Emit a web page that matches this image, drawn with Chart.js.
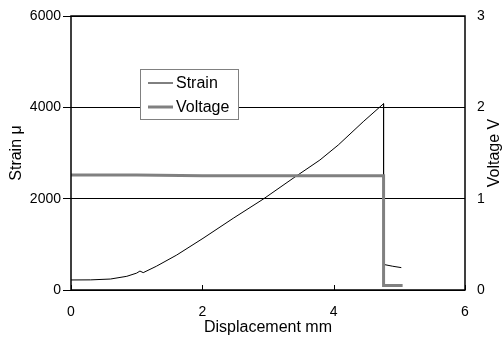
<!DOCTYPE html>
<html>
<head>
<meta charset="utf-8">
<script src="https://cdn.jsdelivr.net/npm/chart.js@4.4.0/dist/chart.umd.min.js"></script>
<style>
  html, body { margin: 0; padding: 0; background: #fff; }
</style>
</head>
<body>
<canvas id="chart" width="504" height="343"></canvas>
<script>
// =======================
// Dados
// =======================
const strainDisp = [0, 0.3, 0.6, 0.85, 1.0, 1.05, 1.1, 1.3, 1.61, 2.01, 2.47, 2.93, 3.38, 3.79, 4.07, 4.45, 4.76, 4.76, 4.9, 5.03];
const strainVals = [220, 222, 240, 300, 370, 415, 380, 520, 766, 1131, 1570, 1993, 2445, 2846, 3175, 3685, 4080, 560, 520, 490];

const voltDisp = [0, 1.0, 2.0, 4.76, 4.76, 5.05];
const voltVals = [1.26, 1.26, 1.25, 1.25, 0.05, 0.05];

const xTicks = [0, 2, 4, 6];
const strainTicks = [0, 2000, 4000, 6000];
const voltTicks = [0, 1, 2, 3];

const FONT = "'Liberation Sans', Arial, sans-serif";

function toPoints(xs, ys) {
    return xs.map((x, i) => ({ x: x, y: ys[i] }));
}

// =======================
// Plugins simples
// =======================

// moldura em volta da área do gráfico + ticks internos do eixo x
const frame = {
    id: "frame",
    afterDraw(chart) {
        const { ctx, chartArea: a, scales } = chart;
        ctx.save();
        ctx.strokeStyle = "#000";
        ctx.lineWidth = 1.5;
        ctx.strokeRect(a.left, a.top, a.right - a.left, a.bottom - a.top);
        ctx.lineWidth = 1;
        xTicks.forEach(v => {
            const px = Math.round(scales.x.getPixelForValue(v)) + 0.5;
            ctx.beginPath();
            ctx.moveTo(px, a.bottom);
            ctx.lineTo(px, a.bottom - 5);
            ctx.stroke();
        });
        // título do eixo direito (lido de baixo para cima)
        ctx.fillStyle = "#000";
        ctx.font = "16px " + FONT;
        ctx.textAlign = "center";
        ctx.textBaseline = "middle";
        ctx.translate(495, (a.top + a.bottom) / 2);
        ctx.rotate(-Math.PI / 2);
        ctx.fillText("Voltage V", 0, 0);
        ctx.restore();
    }
};

// legenda dentro da área do gráfico
const boxLegend = {
    id: "boxLegend",
    afterDatasetsDraw(chart) {
        const { ctx, chartArea: a } = chart;
        const x0 = a.left + 69, y0 = a.top + 53;
        ctx.save();
        ctx.fillStyle = "#fff";
        ctx.fillRect(x0, y0, 98, 50);
        ctx.strokeStyle = "#808080";
        ctx.lineWidth = 1;
        ctx.strokeRect(x0 + 0.5, y0 + 0.5, 98, 50);
        ctx.font = "16px " + FONT;
        ctx.textBaseline = "middle";
        ctx.textAlign = "left";
        const order = [1, 0]; // Strain primeiro, depois Voltage
        order.forEach((di, row) => {
            const ds = chart.data.datasets[di];
            const y = y0 + 14 + row * 24;
            ctx.strokeStyle = ds.borderColor;
            ctx.lineWidth = ds.borderWidth;
            ctx.beginPath();
            ctx.moveTo(x0 + 8, y);
            ctx.lineTo(x0 + 33, y);
            ctx.stroke();
            ctx.fillStyle = "#000";
            ctx.fillText(ds.label, x0 + 36, y + 1);
        });
        ctx.restore();
    }
};

const plain = v => String(v);

// =======================
// Gráfico
// =======================
const ctx = document.getElementById("chart");
new Chart(ctx, {
    type: "scatter",
    data: {
        datasets: [
            {
                label: "Voltage", data: toPoints(voltDisp, voltVals), yAxisID: "y2", order: 0,
                showLine: true, borderColor: "#808080", borderWidth: 3, pointRadius: 0, tension: 0
            },
            {
                label: "Strain", data: toPoints(strainDisp, strainVals), yAxisID: "y", order: 1,
                showLine: true, borderColor: "#000", borderWidth: 1, pointRadius: 0, tension: 0
            }
        ]
    },
    options: {
        responsive: false,
        animation: false,
        layout: { padding: { top: 16, left: 0, right: 0, bottom: 0 } },
        plugins: { legend: { display: false }, tooltip: { enabled: false } },
        scales: {
            x: {
                type: "linear", position: "bottom", min: 0, max: 6,
                afterFit(s) { s.height = 53; },
                afterBuildTicks(s) { s.ticks = xTicks.map(v => ({ value: v })); },
                grid: { display: false, drawTicks: false },
                border: { display: false },
                ticks: { padding: 14, color: "#000", font: { family: FONT, size: 14 }, callback: plain },
                title: { display: true, text: "Displacement mm", color: "#000",
                         padding: { top: 0, bottom: 6 }, font: { family: FONT, size: 16 } }
            },
            y: {
                type: "linear", position: "left", min: 0, max: 6000,
                afterFit(s) { s.width = 71; },
                afterBuildTicks(s) { s.ticks = strainTicks.map(v => ({ value: v })); },
                grid: { color: "#000", lineWidth: 1, tickLength: 8, drawTicks: true },
                border: { display: false },
                ticks: { padding: 2, color: "#000", font: { family: FONT, size: 14 }, callback: plain },
                title: { display: true, text: "Strain μ", color: "#000",
                         padding: { top: 7, bottom: 0 }, font: { family: FONT, size: 16 } }
            },
            y2: {
                type: "linear", position: "right", min: 0, max: 3,
                afterFit(s) { s.width = 39; },
                afterBuildTicks(s) { s.ticks = voltTicks.map(v => ({ value: v })); },
                grid: { drawOnChartArea: false, drawTicks: true, tickLength: 10, tickColor: "rgba(0,0,0,0)" },
                border: { display: false },
                ticks: { padding: 2, color: "#000", font: { family: FONT, size: 14 }, callback: plain }
            }
        }
    },
    plugins: [boxLegend, frame]
});
</script>
</body>
</html>
